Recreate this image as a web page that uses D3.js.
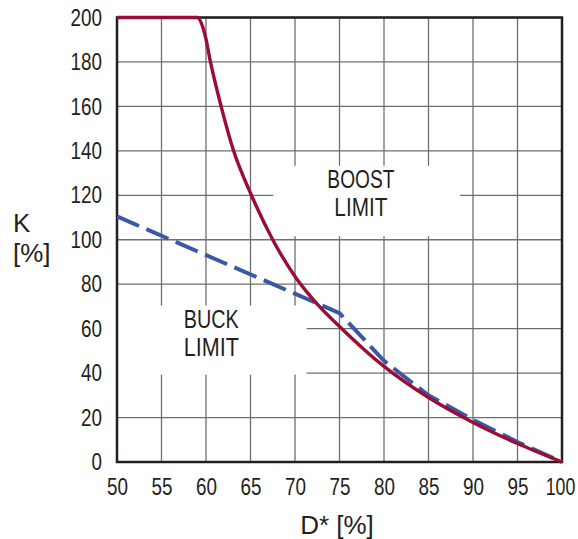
<!DOCTYPE html>
<html>
<head>
<meta charset="utf-8">
<script src="https://cdn.jsdelivr.net/npm/d3@7"></script>
<style>
  body { margin: 0; background: #fff; }
  svg text { fill: #231f20; }
  .tick text { font-family: "Liberation Sans", Arial, sans-serif; font-size: 24px; }
  .note { font-family: "Liberation Sans", Arial, sans-serif; font-size: 26px; }
  .title { font-family: "Liberation Sans", Arial, sans-serif; font-size: 26px; }
</style>
</head>
<body>
<script>
// values
var xTicks = [50, 55, 60, 65, 70, 75, 80, 85, 90, 95, 100];
var yTicks = [0, 20, 40, 60, 80, 100, 120, 140, 160, 180, 200];

// boost limit (solid red)
var boostD = [50, 59, 59.9, 60.5, 61.7, 63.1, 65, 67.5, 70, 72.4, 75, 80, 85, 90, 95, 100];
var boostK = [200, 200, 192, 180, 160, 140, 121, 100, 83.5, 71.5, 61, 43, 29, 17.8, 8.3, 0];

// buck limit (dashed blue)
var buckD = [50, 75, 80, 85, 90, 95, 100];
var buckK = [110.5, 67, 45.5, 30, 19, 9, 0];

var labels = [
  {lines: ["BOOST", "LIMIT"], widths: [67, 53], x0: 67.56, x1: 88.54, y0: 101.6, y1: 133.3, cx: 77.4, base: 123.5},
  {lines: ["BUCK", "LIMIT"], widths: [55, 55], x0: 50, x1: 71.3, y0: 39.3, y1: 70.4, cx: 60.6, base: 60.5}
];

var margin = {top: 17.5, right: 16, bottom: 77, left: 117};
var width = 578 - margin.left - margin.right,
    height = 539 - margin.top - margin.bottom;

var svg = d3.select("body").append("svg")
    .attr("width", 578)
    .attr("height", 539);

var g = svg.append("g")
    .attr("transform", "translate(" + margin.left + "," + margin.top + ")");

var x = d3.scaleLinear().domain([50, 100]).range([0, width]);
var y = d3.scaleLinear().domain([0, 200]).range([height, 0]);

// grid
g.append("g").selectAll("line").data(xTicks).enter().append("line")
    .attr("x1", d => x(d)).attr("x2", d => x(d))
    .attr("y1", 0).attr("y2", height)
    .attr("stroke", "#6f6f6f").attr("stroke-width", 1.3);
g.append("g").selectAll("line").data(yTicks).enter().append("line")
    .attr("x1", 0).attr("x2", width)
    .attr("y1", d => y(d)).attr("y2", d => y(d))
    .attr("stroke", "#6f6f6f").attr("stroke-width", 1.3);

// white boxes behind the region labels
g.append("g").selectAll("rect").data(labels).enter().append("rect")
    .attr("x", d => x(d.x0))
    .attr("y", d => y(d.y1))
    .attr("width", d => x(d.x1) - x(d.x0))
    .attr("height", d => y(d.y0) - y(d.y1))
    .attr("fill", "#fff");

labels.forEach(function(l) {
  l.lines.forEach(function(s, i) {
    g.append("text").attr("class", "note")
      .attr("text-anchor", "middle")
      .attr("x", x(l.cx))
      .attr("y", y(l.base) + i * 28.5)
      .attr("textLength", l.widths[i])
      .attr("lengthAdjust", "spacingAndGlyphs")
      .text(s);
  });
});

// frame
g.append("rect")
    .attr("width", width).attr("height", height)
    .attr("fill", "none").attr("stroke", "#231f20").attr("stroke-width", 2.5);

var line = d3.line()
    .x(d => x(d[0]))
    .y(d => y(d[1]));

g.append("path")
    .datum(d3.zip(buckD, buckK))
    .attr("d", line)
    .attr("fill", "none")
    .attr("stroke", "#3b57a6")
    .attr("stroke-width", 4)
    .attr("stroke-dasharray", "24,8");

g.append("path")
    .datum(d3.zip(boostD, boostK))
    .attr("d", line.curve(d3.curveMonotoneX))
    .attr("fill", "none")
    .attr("stroke", "#9b0d35")
    .attr("stroke-width", 3.4);

// axes (labels only, frame drawn above)
var xg = g.append("g")
    .attr("transform", "translate(0," + height + ")")
    .call(d3.axisBottom(x).tickValues(xTicks).tickSize(0).tickPadding(16));
xg.select(".domain").remove();

var yg = g.append("g")
    .call(d3.axisLeft(y).tickValues(yTicks).tickSize(0).tickPadding(15));
yg.select(".domain").remove();

// condensed digits like the reference
svg.selectAll(".tick text")
    .attr("textLength", d => String(d).length * 10.5)
    .attr("lengthAdjust", "spacingAndGlyphs");
// last x label squeezed with a transform so it stays inside the page
xg.selectAll(".tick text").filter(d => d == 100)
    .attr("textLength", null)
    .attr("lengthAdjust", null)
    .attr("transform", "translate(-2,0) scale(0.74,1)");

svg.append("text").attr("class", "title")
    .attr("text-anchor", "middle")
    .attr("x", 337).attr("y", 534)
    .text("D* [%]");
svg.append("text").attr("class", "title")
    .attr("x", 13).attr("y", 231.7)
    .text("K");
svg.append("text").attr("class", "title")
    .attr("x", 13).attr("y", 262)
    .text("[%]");
</script>
</body>
</html>
